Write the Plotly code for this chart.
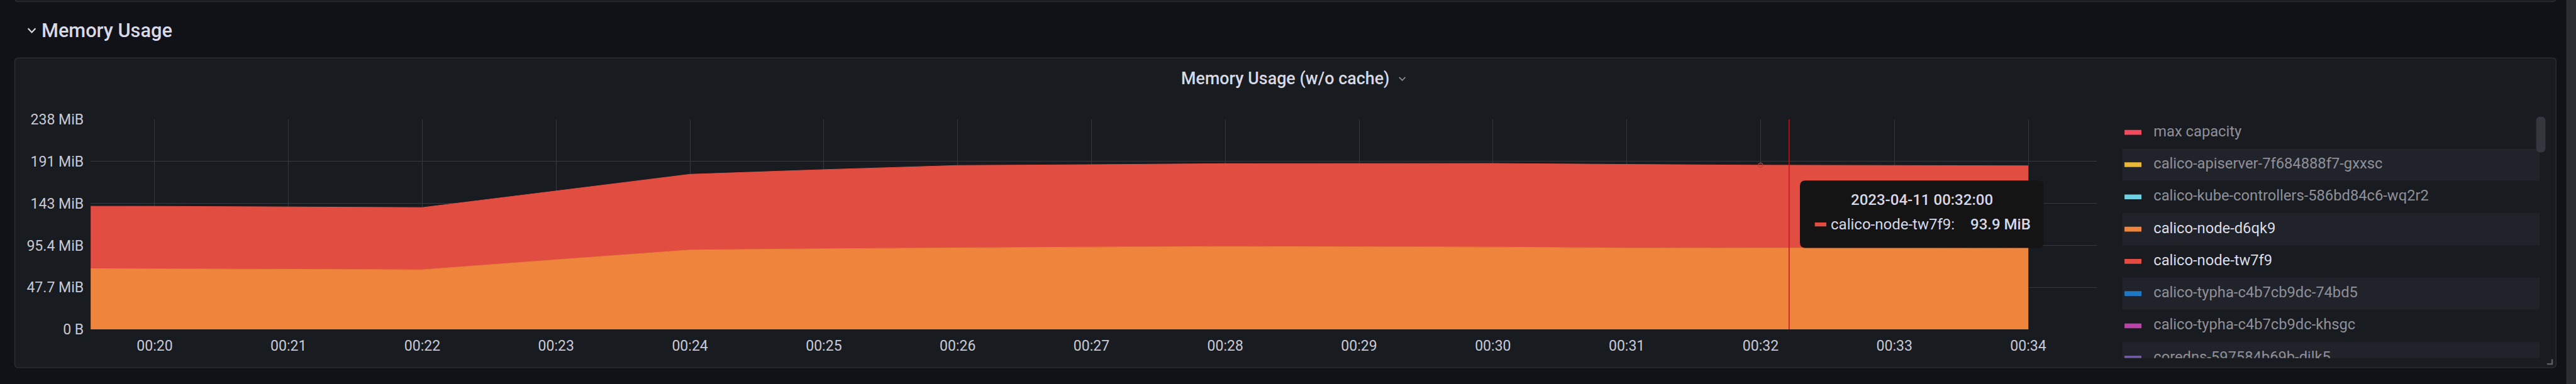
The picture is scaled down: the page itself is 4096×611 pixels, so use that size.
import plotly.graph_objects as go

# ---------------- data ----------------
times = [
    "2023-04-11 00:19:00", "2023-04-11 00:20:00", "2023-04-11 00:21:00", "2023-04-11 00:22:00",
    "2023-04-11 00:23:00", "2023-04-11 00:24:00", "2023-04-11 00:25:00", "2023-04-11 00:26:00",
    "2023-04-11 00:27:00", "2023-04-11 00:28:00", "2023-04-11 00:29:00", "2023-04-11 00:30:00",
    "2023-04-11 00:31:00", "2023-04-11 00:32:00", "2023-04-11 00:33:00", "2023-04-11 00:34:00",
]
# memory usage in MiB
calico_node_d6qk9 = [69.3, 68.8, 68.3, 67.8, 79.1, 90.2, 91.6, 92.8, 93.5, 94.1, 93.7, 93.5, 92.3, 92.5, 92.5, 92.5]
calico_node_tw7f9 = [70.6, 71.0, 70.8, 70.6, 78.1, 85.9, 89.8, 93.3, 93.5, 94.1, 94.6, 94.9, 95.0, 93.9, 93.6, 93.2]

xtick_vals = times[1:]
xtick_labels = ["00:20", "00:21", "00:22", "00:23", "00:24", "00:25", "00:26", "00:27",
                "00:28", "00:29", "00:30", "00:31", "00:32", "00:33", "00:34"]
ytick_bytes = [0, 50e6, 100e6, 150e6, 200e6, 250e6]
ytick_labels = ["0 B", "47.7 MiB", "95.4 MiB", "143 MiB", "191 MiB", "238 MiB"]

legend_names = [
    "max capacity",
    "calico-apiserver-7f684888f7-gxxsc",
    "calico-kube-controllers-586bd84c6-wq2r2",
    "calico-node-d6qk9",
    "calico-node-tw7f9",
    "calico-typha-c4b7cb9dc-74bd5",
    "calico-typha-c4b7cb9dc-khsgc",
    "coredns-597584b69b-djlk5",
]
legend_colors = ["#F2495C", "#EAB839", "#6ED0E0", "#EF843C", "#E24D42", "#1F78C1", "#BA43A9", "#705DA0"]
legend_shown = [False, False, False, True, True, False, False, False]

hover_time = "2023-04-11 00:32:00"
cursor_time = "2023-04-11 00:32:12.8"

# ---------------- geometry helpers (reference px -> paper) ----------------
RW, RH = 4262.0, 636.0
W, H = 4096, 611
S = W / RW
FONT = "Roboto, 'Noto Sans', sans-serif"


def PX(x):
    return x / RW


def PY(y):
    return 1 - y / RH


def pt(x, y):
    return f"{PX(x):.6f},{PY(y):.6f}"


def rrect(x0, y0, x1, y1, r):
    return (f"M{pt(x0 + r, y0)} L{pt(x1 - r, y0)} Q{pt(x1, y0)} {pt(x1, y0 + r)} "
            f"L{pt(x1, y1 - r)} Q{pt(x1, y1)} {pt(x1 - r, y1)} L{pt(x0 + r, y1)} "
            f"Q{pt(x0, y1)} {pt(x0, y1 - r)} L{pt(x0, y0 + r)} Q{pt(x0, y0)} {pt(x0 + r, y0)} Z")


PAGE_BG = "#111217"
PANEL_BG = "#181b1f"
BORDER = "#2a2c32"
TEXT = "#ccccdc"

plot_l, plot_r, plot_t, plot_b = 150.0, 3469.0, 197.7, 545.7

fig = go.Figure()

# stacked areas
fig.add_trace(go.Scatter(
    x=times, y=calico_node_d6qk9, name="calico-node-d6qk9", stackgroup="one",
    mode="lines", line=dict(color="#EF843C", width=1), fillcolor="#EF843C",
    hoverinfo="skip", showlegend=False))
fig.add_trace(go.Scatter(
    x=times, y=calico_node_tw7f9, name="calico-node-tw7f9", stackgroup="one",
    mode="lines", line=dict(color="#E24D42", width=1), fillcolor="#E24D42",
    hoverinfo="skip", showlegend=False))

# hovered point marker
hi = times.index(hover_time)
fig.add_trace(go.Scatter(
    x=[hover_time], y=[calico_node_d6qk9[hi] + calico_node_tw7f9[hi]], mode="markers",
    marker=dict(symbol="circle-open", size=7, color="#b8433a", line=dict(width=1.2)),
    hoverinfo="skip", showlegend=False, cliponaxis=False))

# legend (clipped viewport as its own subplot)
leg_x0, leg_x1, leg_y0, leg_y1 = 3511.0, 4202.0, 192.0, 593.0
row0, row_h = 219.3, 53.4
rows_y = [row0 + i * row_h for i in range(len(legend_names))]
fig.add_trace(go.Scatter(
    x=[3563] * len(legend_names), y=rows_y, text=legend_names, mode="text",
    textposition="middle right",
    textfont=dict(family=FONT, size=24.7 * S,
                  color=["#dcdde6" if v else "#8f9099" for v in legend_shown]),
    xaxis="x2", yaxis="y2", hoverinfo="skip", showlegend=False, cliponaxis=True))

shapes = []
# page right scrollbar strip
shapes.append(dict(type="rect", xref="paper", yref="paper", x0=PX(4246), x1=1.0, y0=0, y1=1,
                   fillcolor="#2c2d32", line=dict(width=0), layer="below"))
# previous panel edge at top
shapes.append(dict(type="path", xref="paper", yref="paper", path=rrect(24.5, -30, 4229, 2.5, 6),
                   fillcolor=PANEL_BG, line=dict(color=BORDER, width=1.5), layer="below"))
# main panel
shapes.append(dict(type="path", xref="paper", yref="paper", path=rrect(24.5, 96, 4229, 609, 6),
                   fillcolor=PANEL_BG, line=dict(color=BORDER, width=1.5), layer="below"))
# row chevron
shapes.append(dict(type="path", xref="paper", yref="paper",
                   path=f"M{pt(46.5, 47)} L{pt(52.6, 53.5)} L{pt(58.7, 47)}",
                   line=dict(color="#d8d9e6", width=2.2)))
# title chevron
shapes.append(dict(type="path", xref="paper", yref="paper",
                   path=f"M{pt(2315, 128)} L{pt(2320, 133)} L{pt(2325, 128)}",
                   line=dict(color="#8e8f99", width=1.8)))
# legend row bands & swatches
for i, (c, y) in enumerate(zip(legend_colors, rows_y)):
    if i % 2 == 1:
        shapes.append(dict(type="rect", xref="x2", yref="y2", x0=leg_x0, x1=leg_x1,
                           y0=y - 26.6, y1=y + 26.6, fillcolor="#202329", line=dict(width=0),
                           layer="below"))
    shapes.append(dict(type="rect", xref="x2", yref="y2", x0=3515, x1=3543, y0=y - 4, y1=y + 4,
                       fillcolor=c, line=dict(width=0), layer="above"))
# legend scrollbar
shapes.append(dict(type="path", xref="paper", yref="paper", path=rrect(4196, 193, 4211.5, 252.5, 7.5),
                   fillcolor="#34373d", line=dict(width=0)))
# resize handle
shapes.append(dict(type="path", xref="paper", yref="paper",
                   path=f"M{pt(4214, 603)} L{pt(4222.5, 603)} L{pt(4222.5, 595)}",
                   line=dict(color="#5a5c62", width=2.5)))
# cursor line
shapes.append(dict(type="line", xref="x", yref="paper", x0=cursor_time, x1=cursor_time,
                   y0=PY(plot_b), y1=PY(plot_t), line=dict(color="#c0161c", width=1.5)))
# tooltip box
tt_x0, tt_y0, tt_x1, tt_y1 = 2978.0, 299.0, 3381.0, 410.7
shapes.append(dict(type="path", xref="paper", yref="paper", path=rrect(tt_x0, tt_y0, tt_x1, tt_y1, 9),
                   fillcolor="#141414", line=dict(width=0)))
shapes.append(dict(type="rect", xref="paper", yref="paper", x0=PX(3002.6), x1=PX(3021.7),
                   y0=PY(375), y1=PY(368.5), fillcolor="#E24D42", line=dict(width=0)))

annotations = [
    dict(text="Memory Usage", x=PX(67), y=PY(50), xref="paper", yref="paper",
         xanchor="left", yanchor="middle", showarrow=False,
         font=dict(family=FONT, size=32 * S, color="#d8d9e6", weight=500)),
    dict(text="Memory Usage (w/o cache)", x=PX(2126.5), y=PY(130), xref="paper", yref="paper",
         xanchor="center", yanchor="middle", showarrow=False,
         font=dict(family=FONT, size=28 * S, color="#d8d9e6", weight=500)),
    dict(text=hover_time, x=PX(3179.5), y=PY(331), xref="paper", yref="paper",
         xanchor="center", yanchor="middle", showarrow=False,
         font=dict(family=FONT, size=25 * S, color="#d6d9ea", weight=500)),
    dict(text="calico-node-tw7f9:", x=PX(3027), y=PY(372), xref="paper", yref="paper",
         xanchor="left", yanchor="middle", showarrow=False,
         font=dict(family=FONT, size=25 * S, color="#d6d9ea")),
    dict(text=f"{calico_node_tw7f9[hi]:.1f} MiB", x=PX(3362), y=PY(372), xref="paper", yref="paper",
         xanchor="right", yanchor="middle", showarrow=False,
         font=dict(family=FONT, size=25 * S, color="#d6d9ea", weight=500)),
]

GRID = "#36383e"
fig.update_layout(
    width=W, height=H,
    margin=dict(l=0, r=0, t=0, b=0, pad=0, autoexpand=False),
    paper_bgcolor=PAGE_BG, plot_bgcolor=PANEL_BG,
    showlegend=False, hovermode=False,
    shapes=shapes, annotations=annotations,
    font=dict(family=FONT, color=TEXT, size=24 * S),
    xaxis=dict(
        type="date", domain=[PX(plot_l), PX(plot_r)],
        range=["2023-04-11 00:19:31.3", "2023-04-11 00:34:30.7"],
        tickvals=xtick_vals, ticktext=xtick_labels,
        showgrid=True, gridcolor=GRID, gridwidth=1.4,
        zeroline=False, showline=False, ticks="", automargin=False,
        tickfont=dict(family=FONT, size=24 * S, color="#c8c9d5"),
        ticklabelstandoff=10, fixedrange=True,
    ),
    yaxis=dict(
        domain=[PY(plot_b), PY(plot_t)],
        range=[0, ytick_bytes[-1] / 1048576],
        tickvals=[b / 1048576 for b in ytick_bytes], ticktext=ytick_labels,
        showgrid=True, gridcolor=GRID, gridwidth=1.4,
        zeroline=False, showline=False, ticks="", automargin=False,
        tickfont=dict(family=FONT, size=24 * S, color="#c8c9d5"),
        ticklabelstandoff=10, fixedrange=True,
    ),
    xaxis2=dict(domain=[PX(leg_x0), PX(leg_x1)], range=[leg_x0, leg_x1], anchor="y2",
                visible=False, fixedrange=True, automargin=False),
    yaxis2=dict(domain=[PY(leg_y1), PY(leg_y0)], range=[leg_y1, leg_y0], anchor="x2",
                visible=False, fixedrange=True, automargin=False),
)

fig.write_html(
    "out.html",
    config={"displayModeBar": False},
    post_script="document.body.style.margin='0';document.body.style.background='#111217';"
                "document.body.style.overflow='hidden';",
)
